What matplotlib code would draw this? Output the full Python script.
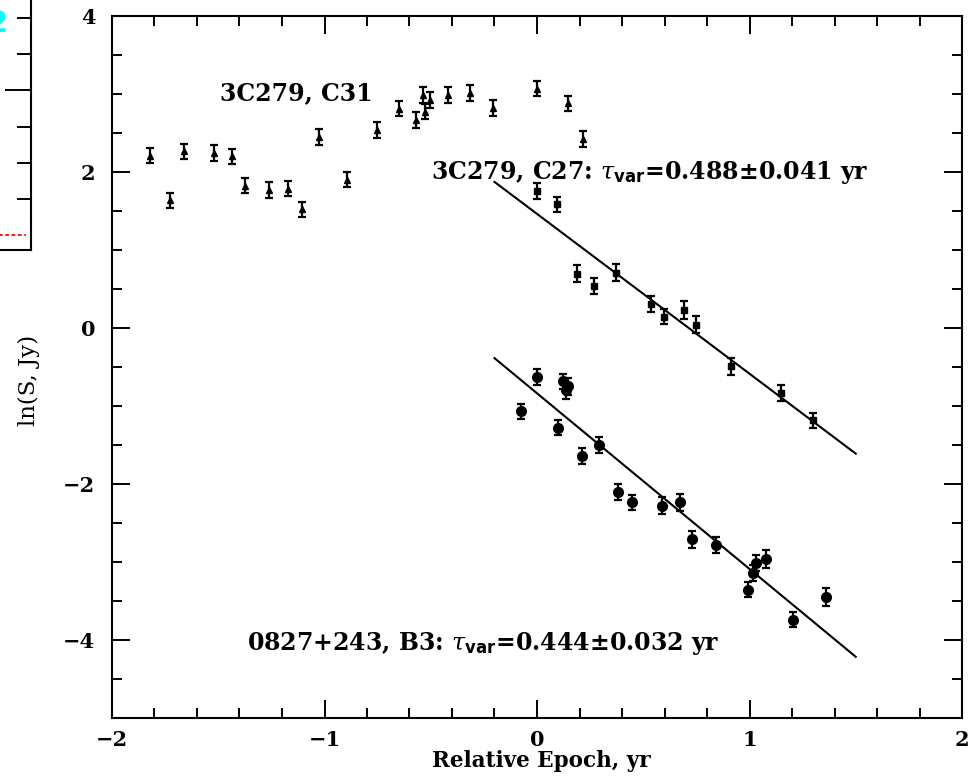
import matplotlib
matplotlib.use("Agg")
import matplotlib.pyplot as plt
import numpy as np
from matplotlib.ticker import MultipleLocator

plt.rcParams['font.family'] = 'DejaVu Serif'
plt.rcParams['mathtext.fontset'] = 'custom'
plt.rcParams['mathtext.rm'] = 'DejaVu Serif'
plt.rcParams['mathtext.it'] = 'DejaVu Serif:italic'
plt.rcParams['mathtext.bf'] = 'DejaVu Sans:bold'

# 3C279, component C31
t_c31 = [-1.821, -1.727, -1.660, -1.519, -1.435, -1.376, -1.263, -1.172, -1.106,
         -1.026, -0.896, -0.753, -0.648, -0.569, -0.535, -0.527, -0.504, -0.420,
         -0.315, -0.206, 0.000, 0.147, 0.215]
s_c31 = [2.21, 1.635, 2.265, 2.24, 2.20, 1.826, 1.766, 1.788, 1.52,
         2.448, 1.903, 2.54, 2.814, 2.669, 2.99, 2.775, 2.925, 2.99,
         3.01, 2.82, 3.07, 2.88, 2.42]
e_c31 = [0.10] * len(t_c31)

# 3C279, component C27
t_c27 = [0.000, 0.096, 0.190, 0.270, 0.372, 0.535, 0.596, 0.692, 0.748, 0.914, 1.150, 1.300]
s_c27 = [1.754, 1.584, 0.698, 0.54, 0.711, 0.307, 0.145, 0.23, 0.042, -0.489, -0.834, -1.184]
e_c27 = [0.10, 0.10, 0.11, 0.10, 0.11, 0.10, 0.10, 0.12, 0.11, 0.11, 0.10, 0.10]

# 0827+243, component B3
t_b3 = [-0.077, 0.002, 0.097, 0.121, 0.136, 0.147, 0.212, 0.290, 0.380, 0.449, 0.588,
        0.673, 0.731, 0.841, 0.995, 1.015, 1.029, 1.076, 1.203, 1.360]
s_b3 = [-1.069, -0.63, -1.277, -0.685, -0.80, -0.745, -1.639, -1.503, -2.10, -2.235, -2.277,
        -2.235, -2.708, -2.78, -3.355, -3.14, -3.014, -2.963, -3.738, -3.448]
e_b3 = [0.10, 0.10, 0.10, 0.10, 0.11, 0.11, 0.10, 0.10, 0.10, 0.10, 0.11,
        0.11, 0.11, 0.10, 0.10, 0.10, 0.10, 0.12, 0.10, 0.11]

# exponential decay fits: ln S = a - t / tau_var
tau_c27, a_c27 = 0.488, 1.463
tau_b3, a_b3 = 0.444, -0.837
fit_range = [-0.2, 1.5]

fig = plt.figure(figsize=(9.76, 7.83), dpi=100)

# edge of the neighbouring panel
side = fig.add_axes([-200 / 976, 533 / 783, 231 / 976, 250 / 783])
side.set_xlim(0, 1)
side.set_ylim(0, 250)
side.spines['left'].set_visible(False)
side.spines['top'].set_visible(False)
side.spines['right'].set_linewidth(1.5)
side.spines['bottom'].set_linewidth(1.5)
side.yaxis.tick_right()
side.set_yticks([160])
side.set_yticks([232, 196, 123, 87, 51], minor=True)
side.tick_params(axis='y', which='both', direction='in', width=1.4, labelright=False)
side.tick_params(axis='y', which='major', length=19)
side.tick_params(axis='y', which='minor', length=10)
side.set_xticks([])
side.plot([0, 0.98], [15, 15], color='red', ls=(0, (2, 1.5)), lw=1.3)
side.text(0.853, 226, '2', color='cyan', fontsize=22, fontweight='bold',
          family='DejaVu Sans', va='center', ha='center')

ax = fig.add_axes([112 / 976, 65 / 783, 850 / 976, 702 / 783])

eb = dict(ls='none', color='black', ecolor='black', elinewidth=1.6, capsize=3, capthick=1.6)
ax.errorbar(t_c31, s_c31, yerr=e_c31, marker='^', ms=5, **eb)
ax.errorbar(t_c27, s_c27, yerr=e_c27, marker='s', ms=5, **eb)
ax.errorbar(t_b3, s_b3, yerr=e_b3, marker='o', ms=7, **eb)

tt = np.array(fit_range)
ax.plot(tt, a_c27 - tt / tau_c27, color='black', lw=1.5)
ax.plot(tt, a_b3 - tt / tau_b3, color='black', lw=1.5)

lab = dict(fontsize=17, fontweight='bold', va='center', ha='left')
ax.text(-1.49, 3.01, '3C279, C31', **lab)
ax.text(-0.50, 2.0, r'3C279, C27: $\tau_{\mathbf{var}}$=0.488±0.041 yr', **lab)
ax.text(-1.365, -4.04, r'0827+243, B3: $\tau_{\mathbf{var}}$=0.444±0.032 yr', **lab)

ax.set_xlim(-2, 2)
ax.set_ylim(-5, 4)
ax.xaxis.set_major_locator(MultipleLocator(1))
ax.xaxis.set_minor_locator(MultipleLocator(0.2))
ax.yaxis.set_major_locator(MultipleLocator(2))
ax.yaxis.set_minor_locator(MultipleLocator(0.5))
ax.tick_params(which='both', direction='in', top=True, right=True, width=1.4,
               labelsize=15)
ax.tick_params(axis='x', pad=9)
ax.tick_params(axis='y', pad=12)
ax.tick_params(which='major', length=13)
ax.tick_params(which='minor', length=7)
for lbl in ax.get_xticklabels() + ax.get_yticklabels():
    lbl.set_fontweight('bold')
for s in ax.spines.values():
    s.set_linewidth(1.5)

# axis titles placed in figure coordinates
fig.text(541 / 976, 1 - 767 / 783, 'Relative Epoch, yr', fontsize=15.5,
         fontweight='bold', ha='center', va='baseline')
fig.text(29 / 976, 1 - 380 / 783, 'ln(S, Jy)', fontsize=16.5, rotation=90,
         ha='center', va='center')

fig.savefig('out.png', dpi=100)
